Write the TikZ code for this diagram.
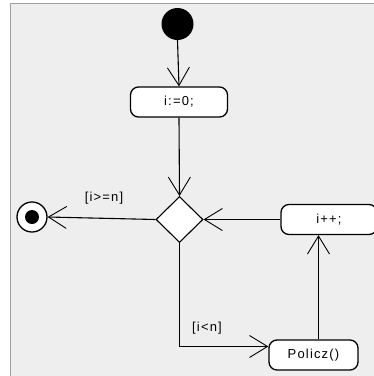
\documentclass[tikz,border=0pt]{standalone}
\usepackage{fontspec}
\setmainfont{Liberation Sans}[LetterSpace=9]
\usetikzlibrary{arrows.meta,shapes.geometric}
\definecolor{panel}{HTML}{EEEEEE}
\definecolor{frame}{HTML}{A0A0A0}
\begin{document}
\begin{tikzpicture}[x=1pt,y=-1pt,
  flow/.style={line width=1.1pt,
    -{Straight Barb[length=18pt,width=22pt,line width=0.9pt]}},
  action/.style={draw,line width=1.3pt,fill=white,rounded corners=8pt,
    minimum height=30pt,inner sep=0pt,font=\fontsize{13}{15}\selectfont},
  guard/.style={inner sep=0pt,font=\fontsize{13}{15}\selectfont}]
  % page and panel
  \useasboundingbox (0,0) rectangle (374,376);
  \fill[white] (0,0) rectangle (374,376);
  \fill[panel] (10.5,3) rectangle (374,376);
  \draw[frame,line width=1pt] (10.5,376) -- (10.5,3) -- (374,3);

  % start and end
  \node[circle,fill=black,minimum size=32pt,inner sep=0pt] (start) at (177.5,24) {};
  \node[circle,draw,line width=1.3pt,fill=white,minimum size=30pt,inner sep=0pt] (end) at (32,217) {};
  \fill[black] (end.center) circle (7);

  % actions
  \node[action,minimum width=97pt] (init) at (179,102) {i:=0;};
  \node[diamond,draw,line width=1.1pt,fill=white,minimum width=47pt,minimum height=46pt,inner sep=0pt] (dec) at (179.5,219.5) {};
  \node[action,minimum width=96pt] (inc) at (329,219.5) {i++;};
  \node[action,minimum width=89pt] (calc) at (313.5,355) {Policz()};

  % flows
  \draw[flow] (start.south) -- (init.north);
  \draw[flow] (init.south) -- (dec.north);
  \draw[flow] (dec.west) -- (end.east);
  \draw[flow] (inc.west) -- (dec.east);
  \coordinate (bend) at (dec.south |- 0,346.5);
  \draw[flow] (dec.south) -- (bend) -- (calc.west |- 0,346.5);
  \draw[flow] (calc.north -| 318.5,0) -- (inc.south -| 318.5,0);

  % guards
  \node[guard] (ge) at (104,198) {[i>=n]};
  \node[guard] (lt) at (207,328) {[i<n]};
\end{tikzpicture}
\end{document}
